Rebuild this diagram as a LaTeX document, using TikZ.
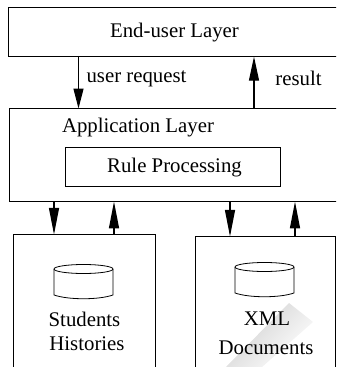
\documentclass[tikz,border=0pt]{standalone}
\usepackage{fontspec}
\setmainfont{Liberation Serif}
\usetikzlibrary{shapes.geometric, arrows.meta, positioning}
\tikzset{
    layerbox/.style={draw, line width=0.9pt, inner sep=0pt, anchor=north west},
    flow/.style={line width=0.9pt, -{Triangle[length=#1, width=7.5pt]}, shorten >=-0.4pt},
    lbl/.style={inner sep=0pt, anchor=base, font=\fontsize{15.6pt}{18pt}\selectfont, align=center},
    dbdrum/.pic={
        \draw[line width=0.6pt] (-29.5,4) arc (180:-180:29.5 and 4.5);
        \draw[line width=0.6pt] (-29.5,4) -- (-29.5,30) .. controls (-15,35) and (15,35) .. (29.5,30) -- (29.5,4);
    }
}
\begin{document}
\begin{tikzpicture}[x=0.75pt, y=-0.75pt]
    \clip (0,0) rectangle (336,367);
    % smudge
    \shade[top color=gray!38, bottom color=white, shading angle=45]
        (289,303) -- (313,322) -- (262,367) -- (226,367) -- cycle;
    % layers
    \node[layerbox, minimum width=345pt, minimum height=36.75pt] (enduser) at (7.5,7) {};
    \node[layerbox, minimum width=345pt, minimum height=69.75pt] (applayer) at (9,108) {};
    \node[layerbox, minimum width=161.25pt, minimum height=29.25pt] (rule) at (65,147) {};
    \node[layerbox, minimum width=106.5pt, minimum height=120pt] (students) at (13,234) {};
    \node[layerbox, minimum width=105pt, minimum height=120pt] (xmldocs) at (195,236) {};
    % texts
    \node[lbl] (enduserlbl) at (174.5,38) {End-user Layer};
    \node[lbl] (applbl) at (138,132.5) {Application Layer};
    \node[lbl] (rulelbl) at (174.5,172.5) {Rule Processing};
    \node[lbl] (reqlbl) at (136.5,83) {user request};
    \node[lbl] (reslbl) at (298.5,86) {result};
    \node[lbl] (stulbl1) at (84.5,326.5) {Students};
    \node[lbl] (stulbl2) at (87,350.5) {Histories};
    \node[lbl] (xmllbl1) at (267,325) {XML};
    \node[lbl] (xmllbl2) at (266,354) {Documents};
    % databases
    \pic at (83.5,265) {dbdrum};
    \pic at (264.5,263) {dbdrum};
    % arrows
    \coordinate (reqtop) at (78.5,56);
    \coordinate (resbot) at (254,108);
    \coordinate (stuin) at (54,201);
    \coordinate (stuout) at (114,234);
    \coordinate (xmlin) at (230,201);
    \coordinate (xmlout) at (295,236);
    \draw[flow=15pt] (reqtop) -- (reqtop |- applayer.north);
    \draw[flow=18pt] (resbot) -- (resbot |- enduser.south);
    \draw[flow=20pt] (stuin) -- (stuin |- students.north);
    \draw[flow=20pt] (stuout) -- (stuout |- applayer.south);
    \draw[flow=20pt] (xmlin) -- (xmlin |- xmldocs.north);
    \draw[flow=20pt] (xmlout) -- (xmlout |- applayer.south);
\end{tikzpicture}
\end{document}
